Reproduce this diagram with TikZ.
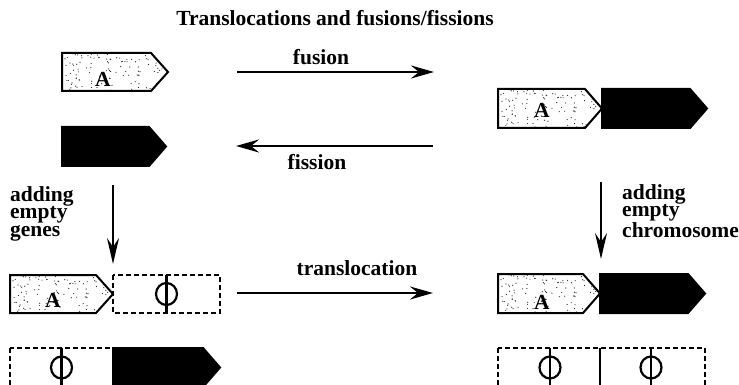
\documentclass[tikz,border=0pt]{standalone}
\usepackage{fontspec}
\setmainfont{Liberation Serif}
\usetikzlibrary{arrows.meta}
\tikzset{
  x=1pt, y=-1pt,
  lbl/.style={font=\fontsize{21.5}{17.5}\selectfont\bfseries, inner sep=0pt},
  multilbl/.style={lbl, align=left, anchor=north west},
  arr/.style={line width=2.3pt, -{Stealth[length=23pt,width=13pt,inset=8pt]}},
  varr/.style={line width=2.3pt, -{Stealth[length=26pt,width=12pt,inset=9pt]}},
  genea/.style={draw=black, line width=2pt, fill=white,
    path picture={\pgfmathsetseed{7}\foreach \i in {1,...,130}{\fill[black!85] (path picture bounding box.north west) ++({rnd*106},{rnd*40}) circle (0.6);}}},
  geneb/.style={draw=black, line width=2pt, fill=black},
  emptybox/.style={draw=black, line width=1.2pt, dash pattern=on 5pt off 3pt},
  philine/.style={line width=2.2pt}
}
% #1 style, #2 name, #3 x1, #4 y1, #5 x2, #6 y2
\newcommand\mygene[6]{%
  \draw[#1] (#3,#4) -- ({#5-17},#4) -- (#5,{(#4+#6)/2}) -- ({#5-17},#6) -- (#3,#6) -- cycle;
  \coordinate (#2) at ({(#3+#5)/2},{(#4+#6)/2});}
% #1 name, #2 x, #3 ytop, #4 ybottom
\newcommand\myphi[4]{%
  \coordinate (#1) at (#2,{(#3+#4)/2});
  \draw[philine] (#1) ellipse [x radius=10.5, y radius=11];
  \draw[philine] (#2,#3) -- (#2,#4);}
\begin{document}
\begin{tikzpicture}
\clip (0,0) rectangle (739,385);
\fill[white] (0,0) rectangle (739,385);

\node[lbl, anchor=base] (title) at (335,26) {Translocations and fusions/fissions};

% top-left genes
\mygene{genea}{ga1}{62}{53}{168}{91}
\node[lbl] (la1) at (103,79) {A};
\mygene{geneb}{gb1}{62}{127}{166}{166}

% fusion / fission
\coordinate (fusL) at (237,72);
\coordinate (fusR) at (434,72);
\draw[arr] (fusL) -- (fusR);
\node[lbl, anchor=base] (fusion) at (321,65) {fusion};
\coordinate (fisR) at (433,146);
\coordinate (fisL) at (236,146);
\draw[arr] (fisR) -- (fisL);
\node[lbl, anchor=base] (fission) at (317,169) {fission};

% top-right fused chromosome
\mygene{genea}{ga2}{498}{89}{602}{128}
\node[lbl] (la2) at (542,110) {A};
\mygene{geneb}{gb2}{602}{89}{707}{128}

% vertical arrows
\coordinate (vlT) at (113,185);
\coordinate (vlB) at (113,264);
\draw[varr] (vlT) -- (vlB);
\node[multilbl] (addg) at (10,186) {adding\\empty\\genes};
\coordinate (vrT) at (601,182);
\coordinate (vrB) at (601,259);
\draw[varr] (vrT) -- (vrB);
\node[multilbl] (addc) at (622,184) {adding\\empty\\chromosome};

% bottom-left
\mygene{genea}{ga3}{10}{275}{113}{313}
\node[lbl] (la3) at (53,300) {A};
\draw[emptybox] (113,275) rectangle (220,313);
\myphi{p1}{166.5}{275}{313}
\draw[emptybox] (10,348) rectangle (113,387);
\myphi{p2}{61.5}{348}{387}
\mygene{geneb}{gb3}{113}{348}{220}{387}

% translocation
\coordinate (trL) at (237,293);
\coordinate (trR) at (433,293);
\draw[arr] (trL) -- (trR);
\node[lbl, anchor=base] (transl) at (357,275) {translocation};

% bottom-right
\mygene{genea}{ga4}{498}{274}{600}{313}
\node[lbl] (la4) at (542,302) {A};
\mygene{geneb}{gb4}{600}{274}{705}{313}
\draw[emptybox] (498,348) rectangle (705,387);
\draw[line width=1.3pt] (600,348) -- (600,387);
\myphi{p3}{550}{348}{387}
\myphi{p4}{651}{348}{387}
\end{tikzpicture}
\end{document}
